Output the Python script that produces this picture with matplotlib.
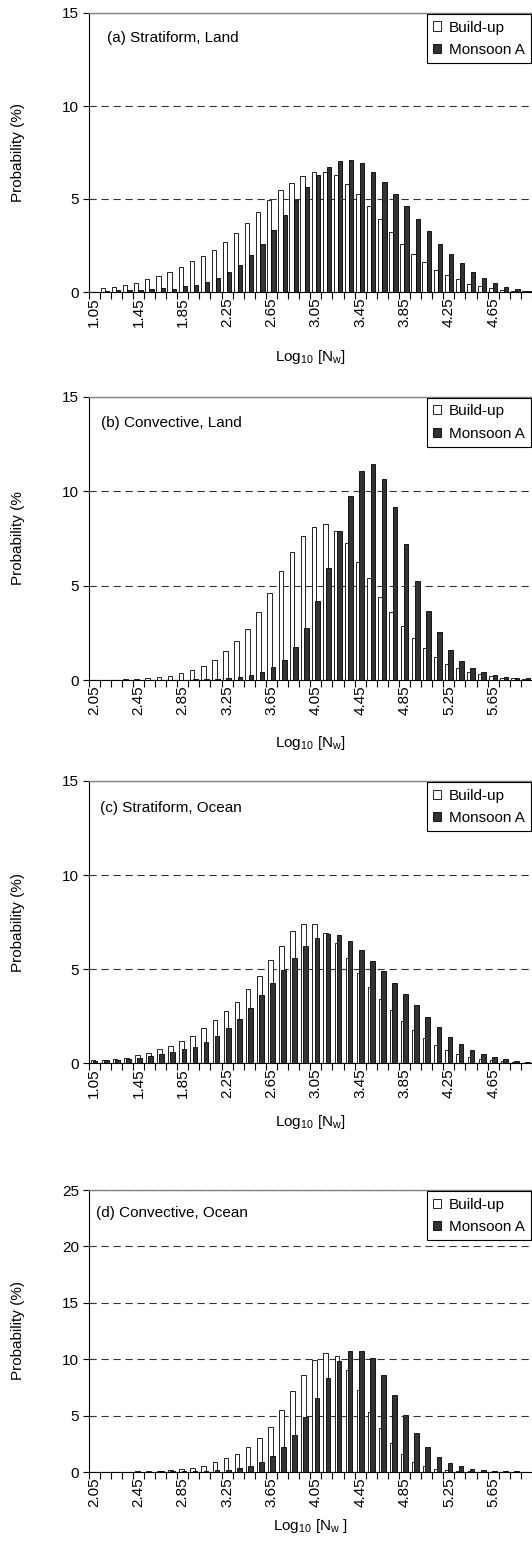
import numpy as np
import matplotlib
matplotlib.use("Agg")
import matplotlib.pyplot as plt
from matplotlib.patches import Patch

plt.rcParams['font.family'] = ['Liberation Sans', 'DejaVu Sans']
plt.rcParams['mathtext.fontset'] = 'custom'
plt.rcParams['mathtext.rm'] = 'Liberation Sans'
plt.rcParams['mathtext.it'] = 'Liberation Sans:italic'

# log10(Nw) bin centres, 0.1 wide
bins_low = [round(1.05 + 0.1 * k, 2) for k in range(40)]   # panels a, c
bins_high = [round(2.05 + 0.1 * k, 2) for k in range(40)]  # panels b, d

# probability (%) per bin
build_a = [0.0, 0.23, 0.29, 0.39, 0.50, 0.68, 0.84, 1.08, 1.36, 1.65,
           1.94, 2.28, 2.69, 3.19, 3.71, 4.32, 4.96, 5.47, 5.86, 6.26,
           6.47, 6.47, 6.27, 5.79, 5.29, 4.61, 3.92, 3.24, 2.60, 2.04,
           1.59, 1.20, 0.91, 0.68, 0.45, 0.34, 0.23, 0.13, 0.07, 0.04]
monsoon_a = [0.0, 0.07, 0.09, 0.09, 0.13, 0.14, 0.20, 0.18, 0.30, 0.36,
             0.52, 0.75, 1.06, 1.43, 1.97, 2.56, 3.32, 4.12, 4.93, 5.65,
             6.27, 6.72, 7.06, 7.11, 6.95, 6.47, 5.91, 5.29, 4.61, 3.92,
             3.30, 2.60, 2.04, 1.54, 1.09, 0.73, 0.47, 0.29, 0.18, 0.07]

build_b = [0.0, 0.01, 0.02, 0.04, 0.06, 0.09, 0.14, 0.22, 0.35, 0.53,
           0.73, 1.06, 1.52, 2.04, 2.70, 3.61, 4.60, 5.77, 6.77, 7.62,
           8.11, 8.25, 7.91, 7.26, 6.25, 5.39, 4.42, 3.60, 2.86, 2.25,
           1.67, 1.22, 0.85, 0.65, 0.45, 0.30, 0.20, 0.12, 0.08, 0.05]
monsoon_b = [0.0, 0.0, 0.0, 0.0, 0.0, 0.0, 0.01, 0.01, 0.02, 0.03,
             0.05, 0.07, 0.10, 0.15, 0.25, 0.40, 0.69, 1.06, 1.75, 2.76,
             4.16, 5.93, 7.91, 9.75, 11.05, 11.46, 10.65, 9.16, 7.19, 5.25,
             3.65, 2.55, 1.61, 1.03, 0.64, 0.40, 0.28, 0.18, 0.12, 0.08]

build_c = [0.15, 0.20, 0.25, 0.30, 0.42, 0.55, 0.74, 0.92, 1.19, 1.47,
           1.88, 2.32, 2.77, 3.28, 3.94, 4.66, 5.50, 6.22, 7.02, 7.41,
           7.41, 6.95, 6.37, 5.57, 4.79, 4.05, 3.41, 2.85, 2.27, 1.77,
           1.33, 0.98, 0.70, 0.50, 0.35, 0.25, 0.15, 0.10, 0.06, 0.04]
monsoon_c = [0.12, 0.15, 0.18, 0.22, 0.30, 0.40, 0.50, 0.62, 0.75, 0.87,
             1.15, 1.44, 1.90, 2.38, 2.93, 3.62, 4.29, 4.96, 5.62, 6.24,
             6.68, 6.88, 6.81, 6.52, 6.01, 5.44, 4.91, 4.29, 3.67, 3.10,
             2.45, 1.93, 1.42, 1.03, 0.72, 0.50, 0.33, 0.22, 0.14, 0.09]

build_d = [0.0, 0.0, 0.02, 0.04, 0.06, 0.08, 0.12, 0.18, 0.27, 0.36,
           0.53, 0.86, 1.21, 1.60, 2.24, 3.00, 4.00, 5.48, 7.15, 8.58,
           9.96, 10.58, 10.25, 9.08, 7.31, 5.34, 3.93, 2.61, 1.60, 0.90,
           0.50, 0.28, 0.15, 0.08, 0.05, 0.03, 0.02, 0.01, 0.0, 0.0]
monsoon_d = [0.0, 0.0, 0.0, 0.02, 0.03, 0.04, 0.05, 0.06, 0.08, 0.10,
             0.12, 0.15, 0.21, 0.39, 0.56, 0.86, 1.39, 2.19, 3.28, 4.84,
             6.52, 8.37, 9.84, 10.75, 10.75, 10.14, 8.61, 6.87, 5.05, 3.43,
             2.25, 1.30, 0.80, 0.50, 0.30, 0.20, 0.12, 0.08, 0.05, 0.03]

titles = ["(a) Stratiform, Land", "(b) Convective, Land",
          "(c) Stratiform, Ocean", "(d) Convective, Ocean"]
ylabels = ["Probability (%)", "Probability (%", "Probability (%)", "Probability (%)"]
xlabels = ["Log$_{\\mathrm{10}}$ [N$_{\\mathrm{w}}$]"] * 3 + ["Log$_{\\mathrm{10}}$ [N$_{\\mathrm{w}}$ ]"]
ytops = [15, 15, 15, 25]

panels = [
    (bins_low, build_a, monsoon_a),
    (bins_high, build_b, monsoon_b),
    (bins_low, build_c, monsoon_c),
    (bins_high, build_d, monsoon_d),
]

# axes boxes in pixels: bottom (from figure top) and height; bar width / offset
W, H = 532.0, 1542.0
left_px = 88.5
boxes = [(292.0, 279.0), (680.0, 283.3), (1063.3, 282.3), (1472.0, 282.0)]
bar_w = [0.38, 0.42, 0.42, 0.42]
bar_shift = [0.38, 0.30, 0.20, 0.20]
title_pos = [(0.041, 0.910), (0.028, 0.907), (0.026, 0.904), (0.017, 0.918)]
xlab_y = [-0.201, -0.191, -0.175, -0.158]

fig = plt.figure(figsize=(W / 100, H / 100), dpi=100)

for p in range(4):
    bins, build, monsoon = panels[p]
    bottom, height = boxes[p]
    ax = fig.add_axes([left_px / W, (H - bottom) / H, 1 - left_px / W, height / H])

    x = np.arange(len(bins))
    w = bar_w[p]
    d = bar_shift[p]
    x_white = x - (w + d) / 2 + w / 2
    x_dark = x_white + d
    ax.bar(x_white, build, width=w, color="white", edgecolor="black", linewidth=0.6, zorder=2)
    ax.bar(x_dark, monsoon, width=w, color="#333333", edgecolor="black", linewidth=0.6, zorder=3)

    ax.set_xlim(-0.5, len(bins) - 0.5)
    ax.set_ylim(0, ytops[p])
    ax.set_yticks(np.arange(0, ytops[p] + 1, 5))
    ax.yaxis.grid(True, color="#333333", linewidth=0.8, linestyle=(0, (6.5, 4.3)), zorder=0)
    ax.set_axisbelow(True)

    # labels on every 4th bin, tick marks between bins
    ax.set_xticks(x[::4])
    ax.set_xticklabels(["%.2f" % v for v in bins[::4]], rotation=90, fontsize=11)
    ax.set_xticks(np.arange(-0.5, len(bins), 1.0), minor=True)
    ax.tick_params(axis="x", which="major", length=0, pad=4)
    ax.tick_params(axis="x", which="minor", length=5, width=0.8, direction="out")
    ax.tick_params(axis="y", length=4, width=0.8, direction="out", labelsize=11, pad=3)

    for side in ["left", "bottom"]:
        ax.spines[side].set_color("black")
        ax.spines[side].set_linewidth(0.8)
    ax.spines["top"].set_color("#808080")
    ax.spines["top"].set_linewidth(1.0)
    ax.spines["right"].set_visible(False)

    ax.set_ylabel(ylabels[p], fontsize=11)
    ax.yaxis.set_label_coords(-0.143, 0.5)
    ax.set_xlabel(xlabels[p], fontsize=11)
    ax.xaxis.set_label_coords(0.5, xlab_y[p])

    ax.text(title_pos[p][0], title_pos[p][1], titles[p], transform=ax.transAxes,
            fontsize=11, va="center", ha="left")

    handles = [Patch(facecolor="white", edgecolor="black", linewidth=0.6),
               Patch(facecolor="#333333", edgecolor="black", linewidth=0.6)]
    leg = ax.legend(handles, ["Build-up", "Monsoon A"], loc="upper right",
                    bbox_to_anchor=(0.998, 0.995), borderaxespad=0, fontsize=11,
                    handlelength=0.55, handleheight=0.55, handletextpad=0.5,
                    borderpad=0.4, labelspacing=0.55, fancybox=False, framealpha=1)
    leg.get_frame().set_edgecolor("black")
    leg.get_frame().set_linewidth(0.8)

plt.savefig("out.png", dpi=100)
